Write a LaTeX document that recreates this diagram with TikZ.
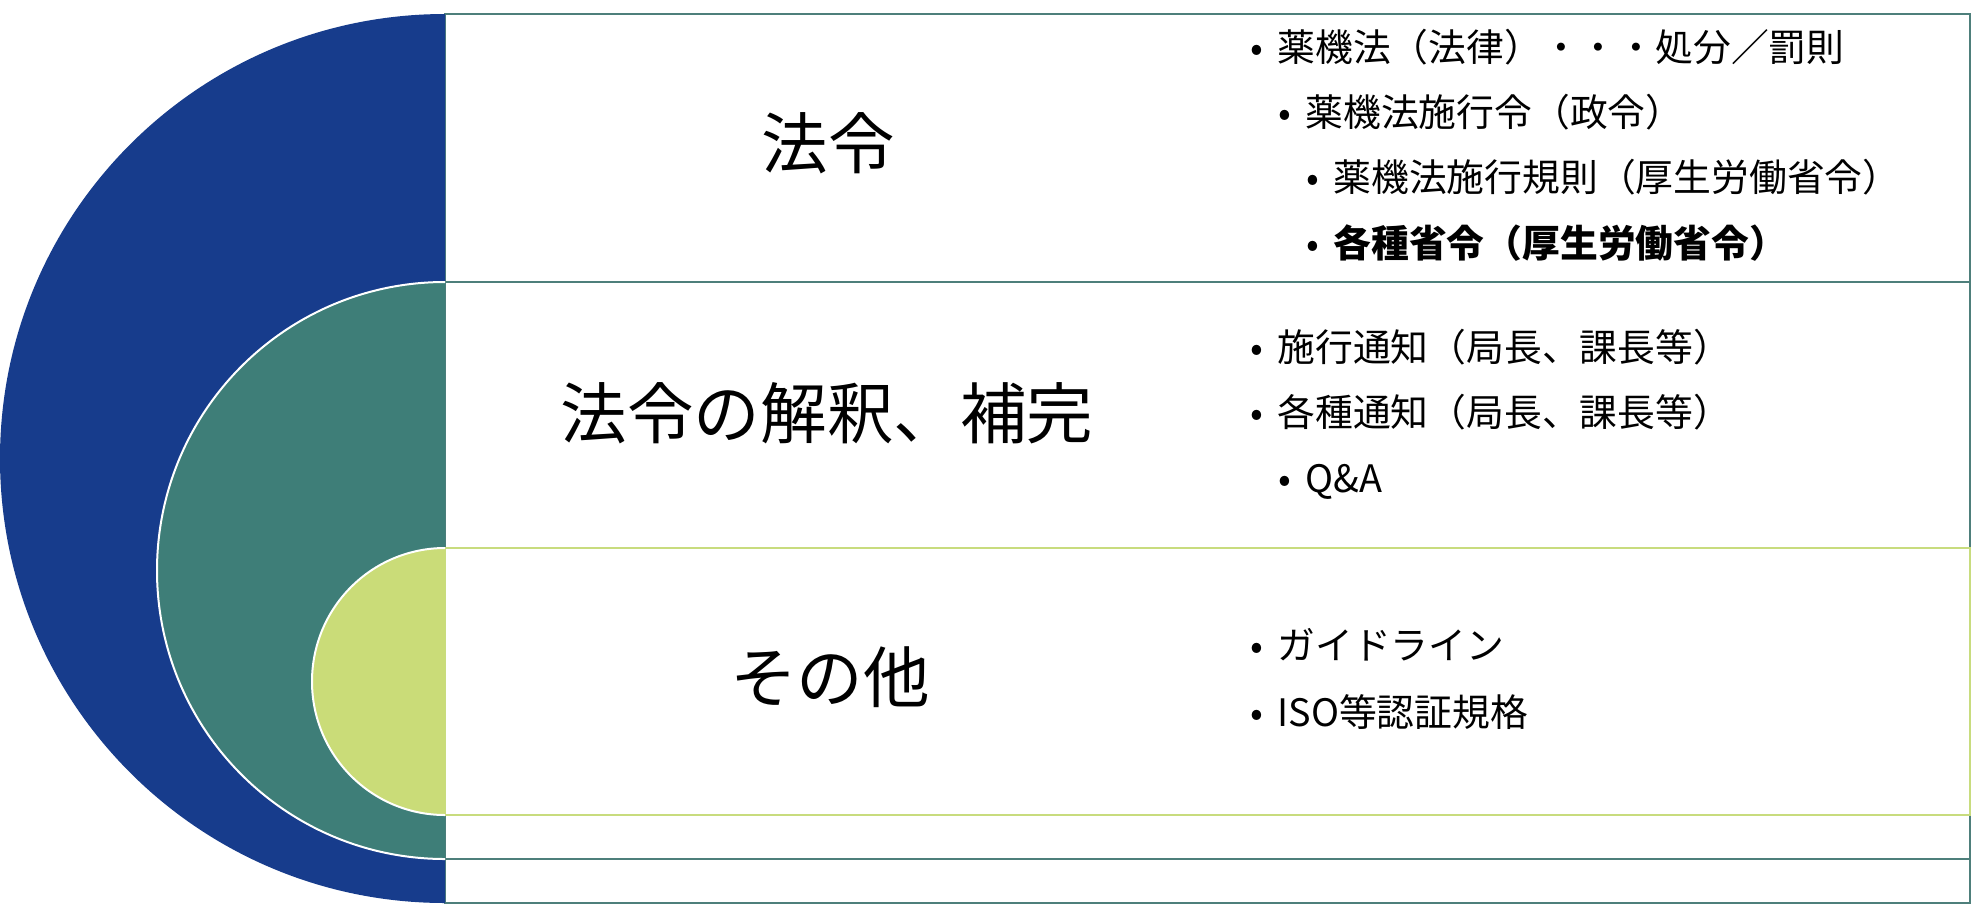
\documentclass[tikz,border=0pt]{standalone}
\usepackage{fontspec}
\newfontfamily\jp{Noto Sans CJK JP}
\definecolor{cblue}{HTML}{173C8C}
\definecolor{cteal}{HTML}{3E7E78}
\definecolor{cgreen}{HTML}{CADC78}
\definecolor{lteal}{HTML}{4E7F7B}
\definecolor{lgreen}{HTML}{C8DC7E}
\newcommand\bul{\makebox[20pt][c]{•}}
\begin{document}
\begin{tikzpicture}[x=0.5pt,y=-0.5pt,
  big/.style={font=\jp\fontsize{33.3pt}{36pt}\selectfont, inner sep=0pt, anchor=center},
  item/.style={font=\jp\fontsize{18.9pt}{21pt}\selectfont, inner sep=0pt, anchor=base west},
  panel/.style={fill=white, line width=1.3pt},
  halfring/.style={draw=white, line width=1pt}]
\useasboundingbox (0,0) rectangle (1973,905);
\fill[white] (0,0) rectangle (1973,905);
% outer layer
\draw[panel, draw=lteal] (445,14) rectangle (1970,903);
\fill[cblue] (445,14) arc[start angle=90, end angle=270, x radius=222.5pt, y radius=222.25pt] -- cycle;
% middle layer
\draw[panel, draw=lteal] (445,282) rectangle (1970,859);
\fill[cteal] (445,282) arc[start angle=90, end angle=270, x radius=144pt, y radius=144.25pt] -- cycle;
\draw[halfring] (445,282) arc[start angle=90, end angle=270, x radius=144pt, y radius=144.25pt];
% inner layer
\draw[panel, draw=lgreen] (445,548) rectangle (1970,815);
\fill[cgreen] (445,548) arc[start angle=90, end angle=270, x radius=66.5pt, y radius=66.75pt] -- cycle;
\draw[halfring] (445,548) arc[start angle=90, end angle=270, x radius=66.5pt, y radius=66.75pt];
% labels
\node[big] (l1) at (828,143) {法令};
\node[big] (l2) at (827,413) {法令の解釈、補完};
\node[big] (l3) at (830,677) {その他};
% items
\node[item] (a1) at (1237,61) {\bul 薬機法（法律）・・・処分／罰則};
\node[item] (a2) at (1265,126) {\bul 薬機法施行令（政令）};
\node[item] (a3) at (1293,191) {\bul 薬機法施行規則（厚生労働省令）};
\node[item] (a4) at (1293,257) {\bul{\bfseries 各種省令（厚生労働省令）}};
\node[item] (b1) at (1237,361) {\bul 施行通知（局長、課長等）};
\node[item] (b2) at (1237,426) {\bul 各種通知（局長、課長等）};
\node[item] (b3) at (1265,492) {\bul Q\&A};
\node[item] (c1) at (1237,659) {\bul ガイドライン};
\node[item] (c2) at (1237,726) {\bul ISO等認証規格};
\end{tikzpicture}
\end{document}
